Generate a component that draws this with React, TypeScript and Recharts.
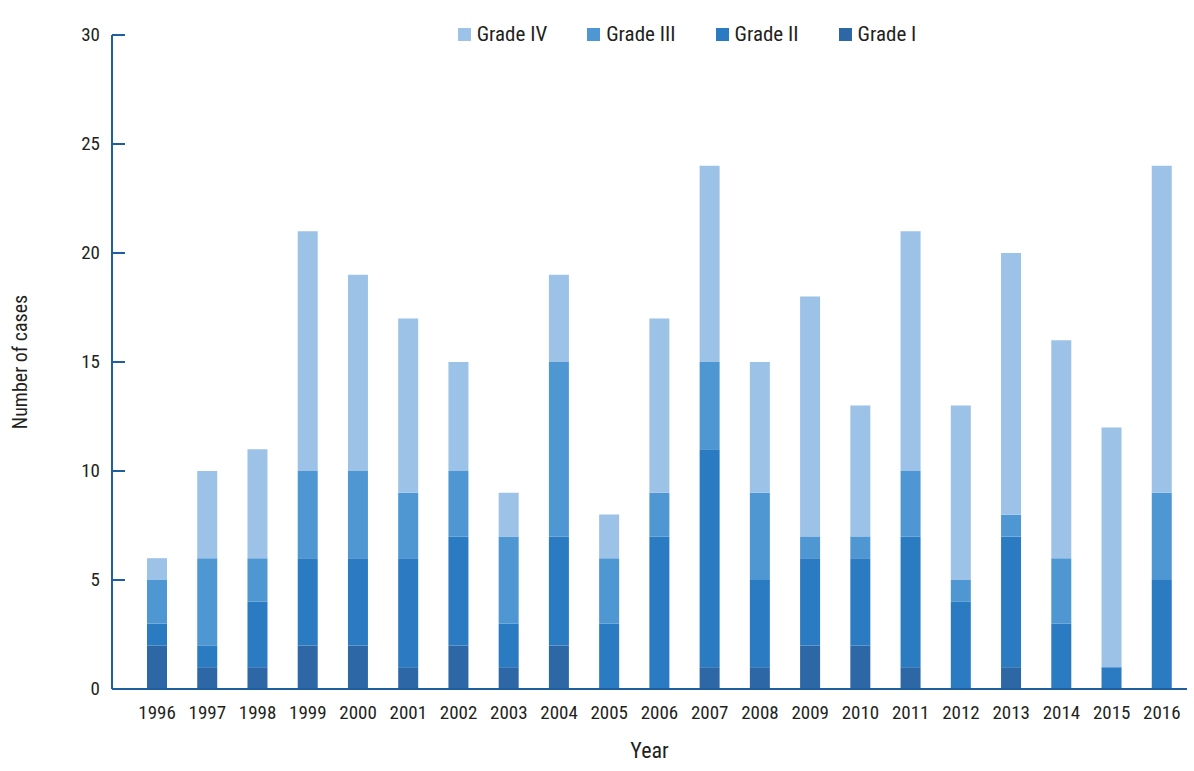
import React from 'react';
import { BarChart, Bar, XAxis, YAxis } from 'recharts';

const years = [
  '1996', '1997', '1998', '1999', '2000', '2001', '2002', '2003', '2004', '2005', '2006',
  '2007', '2008', '2009', '2010', '2011', '2012', '2013', '2014', '2015', '2016',
];
const gradeI = [2, 1, 1, 2, 2, 1, 2, 1, 2, 0, 0, 1, 1, 2, 2, 1, 0, 1, 0, 0, 0];
const gradeII = [1, 1, 3, 4, 4, 5, 5, 2, 5, 3, 7, 10, 4, 4, 4, 6, 4, 6, 3, 1, 5];
const gradeIII = [2, 4, 2, 4, 4, 3, 3, 4, 8, 3, 2, 4, 4, 1, 1, 3, 1, 1, 3, 0, 4];
const gradeIV = [1, 4, 5, 11, 9, 8, 5, 2, 4, 2, 8, 9, 6, 11, 6, 11, 8, 12, 10, 11, 15];
const yTicks = [0, 5, 10, 15, 20, 25, 30];

const series = [
  { key: 'g1', name: 'Grade I', color: '#2e67a6', values: gradeI },
  { key: 'g2', name: 'Grade II', color: '#2a7bc1', values: gradeII },
  { key: 'g3', name: 'Grade III', color: '#4f97d3', values: gradeIII },
  { key: 'g4', name: 'Grade IV', color: '#9cc2e7', values: gradeIV },
];

const data = years.map((year, i) => {
  const row: Record<string, string | number> = { year };
  series.forEach(s => {
    row[s.key] = s.values[i];
  });
  return row;
});

const FONT = '"Liberation Sans Narrow", "Roboto Condensed", "DejaVu Sans Condensed", sans-serif';
const AXIS = '#1f5fa0';

const YTick = (props: any) => {
  const { x, y, payload } = props;
  return (
    <g>
      <line x1={x + 12} y1={y} x2={x + 25} y2={y} stroke={AXIS} strokeWidth={2} />
      <text x={x} y={y} dy={6} textAnchor="end" fontSize={19} fill="#231f20" fontFamily={FONT}>
        {payload.value}
      </text>
    </g>
  );
};

export default function App() {
  return (
    <div style={{ position: 'absolute', left: 0, top: 0, width: 1194, height: 771, background: '#fff' }}>
      <BarChart
        width={1194}
        height={771}
        data={data}
        margin={{ top: 35, right: 7, left: 0, bottom: 0 }}
      >
        <XAxis
          dataKey="year"
          height={82}
          padding={{ left: 20 }}
          tickLine={false}
          axisLine={{ stroke: AXIS, strokeWidth: 2 }}
          tick={{ fontSize: 19, fill: '#231f20', fontFamily: FONT }}
          tickMargin={11}
          interval={0}
          label={{ value: 'Year', position: 'insideBottom', offset: 13, fontSize: 22, fill: '#231f20', fontFamily: FONT }}
        />
        <YAxis
          width={112}
          domain={[0, 30]}
          ticks={yTicks}
          tickLine={false}
          tickSize={0}
          tickMargin={12}
          axisLine={{ stroke: AXIS, strokeWidth: 2 }}
          tick={<YTick />}
          label={{ value: 'Number of cases', angle: -90, position: 'insideLeft', offset: 20, fontSize: 20, fill: '#231f20', fontFamily: FONT, style: { textAnchor: 'middle' } }}
        />
        {series.map(s => (
          <Bar key={s.key} dataKey={s.key} name={s.name} stackId="a" fill={s.color} barSize={20} isAnimationActive={false} />
        ))}
      </BarChart>
      <div
        style={{
          position: 'absolute',
          top: 22,
          left: 0,
          width: 1194,
          display: 'flex',
          justifyContent: 'center',
          paddingLeft: 180,
          boxSizing: 'border-box',
          gap: 40,
          fontFamily: FONT,
          fontSize: 21,
          color: '#231f20',
        }}
      >
        {[...series].reverse().map(s => (
          <div key={s.key} style={{ display: 'flex', alignItems: 'center' }}>
            <span style={{ width: 13, height: 13, background: s.color, display: 'inline-block', marginRight: 6 }} />
            <span>{s.name}</span>
          </div>
        ))}
      </div>
    </div>
  );
}
